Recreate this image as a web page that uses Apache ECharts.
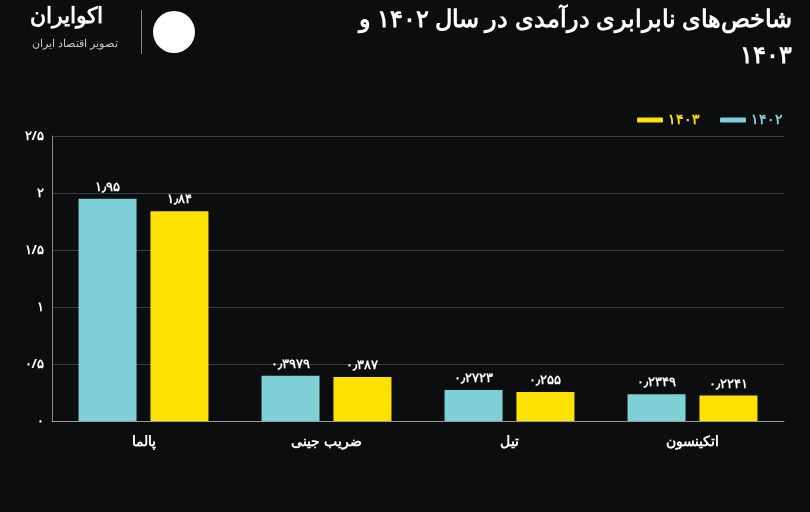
<!DOCTYPE html>
<html><head><meta charset="utf-8">
<script src="https://cdn.jsdelivr.net/npm/echarts@6/dist/echarts.min.js"></script>
<style>html,body{margin:0;background:#0b0d0e}#c{width:810px;height:512px}</style>
</head><body><div id="c"></div>
<script>
var categories = ['پالما', 'ضریب جینی', 'تیل', 'اتکینسون'];
var v1402 = [1.95, 0.3979, 0.2723, 0.2349];
var v1403 = [1.84, 0.387, 0.255, 0.2241];

function fa(s) {
    return String(s).replace(/\d/g, function (d) { return '۰۱۲۳۴۵۶۷۸۹'[d]; });
}
var font = 'Noto Sans';
var chart = echarts.init(document.getElementById('c'));
chart.setOption({
    backgroundColor: '#0b0d0e',
    textStyle: {fontFamily: font},
    graphic: [
        {type: 'text', right: 18, top: 8, style: {text: 'شاخص‌های نابرابری درآمدی در سال ۱۴۰۲ و', fill: '#fff', font: 'bold 24px Noto Sans'}},
        {type: 'text', right: 18, top: 44, style: {text: '۱۴۰۳', fill: '#fff', font: 'bold 24px Noto Sans'}},
        {type: 'text', left: 30, top: 6, style: {text: 'اکوایران', fill: '#fff', font: 'bold 22px Noto Sans'}},
        {type: 'text', left: 32, top: 38, style: {text: 'تصویر اقتصاد ایران', fill: '#ccc', font: '11px Noto Sans'}},
        {type: 'rect', shape: {x: 141, y: 10, width: 1, height: 44}, style: {fill: '#888'}},
        {type: 'circle', shape: {cx: 174, cy: 32, r: 21}, style: {fill: '#fff'}}
    ],
    legend: {
        right: 22, top: 108, itemWidth: 26, itemHeight: 5, itemGap: 20,
        textStyle: {fontSize: 14, fontWeight: 'bold'},
        data: [
            {name: '۱۴۰۳', textStyle: {color: '#fde100'}},
            {name: '۱۴۰۲', textStyle: {color: '#7ecfd6'}}
        ]
    },
    grid: {left: 52, right: 26, top: 136, bottom: 91},
    xAxis: {
        type: 'category', data: categories,
        axisLine: {lineStyle: {color: '#999'}}, axisTick: {show: false},
        axisLabel: {color: '#fff', fontSize: 14, fontWeight: 'bold', margin: 14}
    },
    yAxis: {
        type: 'value', min: 0, max: 2.5, interval: 0.5,
        axisLine: {show: true, lineStyle: {color: '#888'}},
        splitLine: {lineStyle: {color: '#3a3d3f'}},
        axisLabel: {color: '#fff', fontSize: 13, fontWeight: 'bold',
            formatter: function (v) { return fa(v).replace('.', '/'); }}
    },
    series: [
        {name: '۱۴۰۲', type: 'bar', data: v1402, barWidth: 58, barGap: '24%',
            itemStyle: {color: '#7ecfd6'},
            label: {show: true, position: 'top', color: '#fff', fontSize: 13, fontWeight: 'bold',
                formatter: function (p) { return fa(p.value).replace('.', '٫'); }}},
        {name: '۱۴۰۳', type: 'bar', data: v1403, barWidth: 58,
            itemStyle: {color: '#fde100'},
            label: {show: true, position: 'top', color: '#fff', fontSize: 13, fontWeight: 'bold',
                formatter: function (p) { return fa(p.value).replace('.', '٫'); }}}
    ]
});
</script></body></html>
